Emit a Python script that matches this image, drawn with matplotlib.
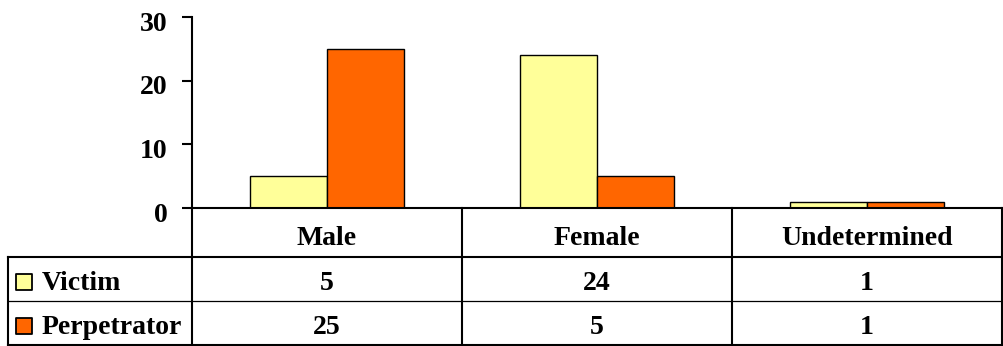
import matplotlib
matplotlib.use("Agg")
import matplotlib.pyplot as plt
import matplotlib.transforms as mtransforms
import numpy as np

# data
categories = ["Male", "Female", "Undetermined"]
series = ["Victim", "Perpetrator"]
victim = [5, 24, 1]
perpetrator = [25, 5, 1]
colors = ["#FFFF99", "#FF6600"]
yticks = [0, 10, 20, 30]

plt.rcParams["font.family"] = ["Liberation Serif", "DejaVu Serif"]
plt.rcParams["font.weight"] = "bold"
FS = 20

W, H = 1004, 346
fig = plt.figure(figsize=(W / 100, H / 100), dpi=100)

def px_rect(x0, y0, x1, y1):
    # pixel box (top-left origin) -> figure fraction
    return [x0 / W, 1 - y1 / H, (x1 - x0) / W, (y1 - y0) / H]

# bar axes
ax = fig.add_axes(px_rect(192, 17, 1002, 208))
n = len(categories)
x = np.arange(n) + 0.5
bw = 0.287
for i, (vals, c) in enumerate(zip([victim, perpetrator], colors)):
    ax.bar(x + (i - 0.5) * bw, vals, bw, color=c, edgecolor="black", linewidth=1.0, zorder=2)
ax.set_xlim(0, n)
ax.set_ylim(0, 30)
ax.set_yticks(yticks)
ax.set_yticklabels([str(t) for t in yticks], fontsize=FS, fontweight="bold")
ax.set_xticks([])
for s in ["top", "right"]:
    ax.spines[s].set_visible(False)
ax.spines["left"].set_linewidth(1.5)
ax.spines["bottom"].set_linewidth(1.5)
ax.tick_params(axis="y", length=7.5, width=1.5, pad=10)
shift = mtransforms.ScaledTranslation(0, -3 / 72, fig.dpi_scale_trans)
for lbl in ax.get_yticklabels():
    lbl.set_transform(lbl.get_transform() + shift)

# data table below the axes
tax = fig.add_axes(px_rect(8, 208, 1002, 345))
lab_w = (192 - 8) / ((1002 - 192) / n)
tax.set_xlim(-lab_w, n)
row_h = [1.1, 1.0, 1.0]
edges = np.concatenate([[0], np.cumsum(row_h)])
tax.set_ylim(edges[-1], 0)
tax.axis("off")

thick, thin = 1.5, 0.9
kw = dict(color="black", clip_on=False, solid_capstyle="projecting")
# vertical lines
for c in range(n + 1):
    tax.plot([c, c], [0, edges[-1]], lw=thick, **kw)
tax.plot([-lab_w, -lab_w], [edges[1], edges[-1]], lw=thick, **kw)
# horizontal lines
tax.plot([-lab_w, n], [edges[1], edges[1]], lw=thick, **kw)
tax.plot([-lab_w, n], [edges[2], edges[2]], lw=thin, **kw)
tax.plot([-lab_w, n], [edges[3], edges[3]], lw=thick, **kw)

# header
for j, cat in enumerate(categories):
    tax.text(j + 0.5, edges[0] + 0.84, cat, ha="center", va="baseline",
             fontsize=FS, fontweight="bold")
# rows
for r, (name, vals, c) in enumerate(zip(series, [victim, perpetrator], colors)):
    top = edges[r + 1]
    tax.scatter([-lab_w + 0.059], [top + 0.57], s=140, marker="s", color=c, edgecolor="black",
                linewidth=1.3, zorder=3, clip_on=False)
    tax.text(-lab_w + 0.125, top + 0.75, name, ha="left", va="baseline", fontsize=FS, fontweight="bold")
    for j, v in enumerate(vals):
        tax.text(j + 0.5, top + 0.75, str(v), ha="center", va="baseline", fontsize=FS, fontweight="bold")

fig.savefig("out.png", dpi=100)
